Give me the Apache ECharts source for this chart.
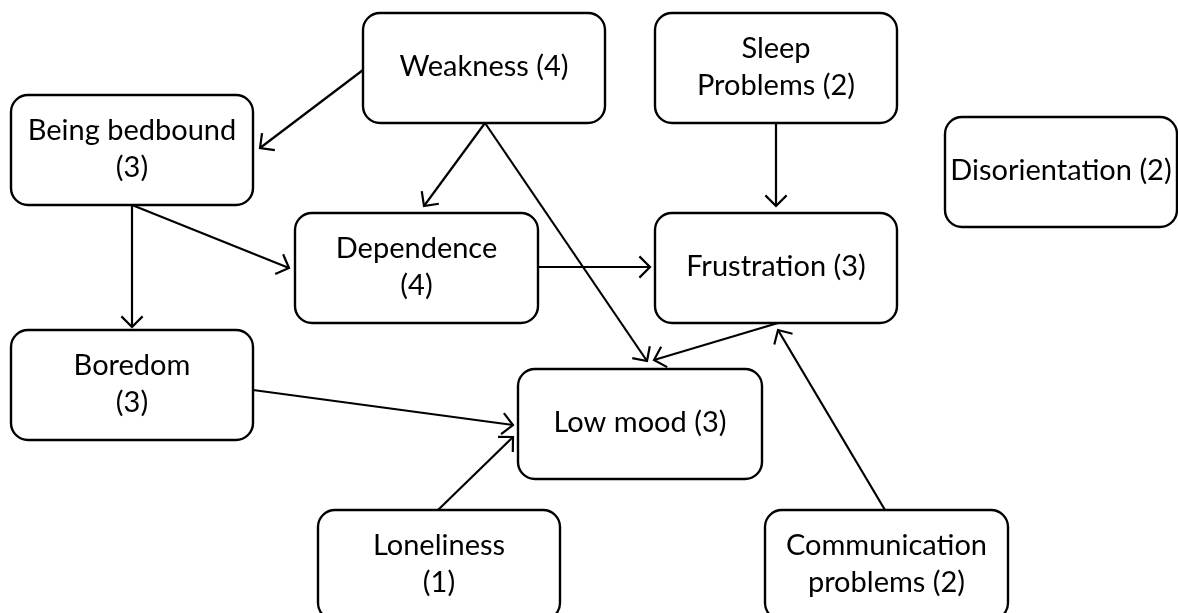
<!DOCTYPE html>
<html>
<head>
<meta charset="utf-8">
<script src="https://cdn.jsdelivr.net/npm/echarts@6/dist/echarts.min.js"></script>
<style>
  html, body { margin: 0; padding: 0; background: #fff; }
  #main { width: 1178px; height: 613px; }
</style>
</head>
<body>
<div id="main"></div>
<script>
'use strict';
// boxes of the diagram (in picture units, y down)
var nodeLabels = ['Weakness (4)', 'Sleep\nProblems (2)', 'Being bedbound\n(3)', 'Disorientation (2)',
	'Dependence\n(4)', 'Frustration (3)', 'Boredom\n(3)', 'Low mood (3)', 'Loneliness\n(1)',
	'Communication\nproblems (2)'];
var nodeLeft = [363, 655, 11, 945, 295, 655, 11, 518, 318, 765];
var nodeTop = [13, 13, 95, 117, 213, 213, 330, 369, 510, 510];
var nodeWidth = [242, 242, 242, 232, 243, 242, 242, 244, 242, 243];
var nodeHeight = [110, 110, 110, 110, 110, 110, 110, 110, 110, 110];

// arrows: start point -> end point
var arrowFrom = [[363, 70], [485, 123], [485, 123], [776, 123], [132, 205], [132, 205],
	[538, 267], [778, 323], [253, 390], [438, 510], [885, 510]];
var arrowTo = [[260, 148], [424, 206], [647, 361], [776, 206], [132, 327], [289, 268],
	[650, 267], [654, 360], [513, 425], [513, 437], [778, 330]];

$ready();

function $ready() {
	var chart = echarts.init(document.getElementById('main'));

	var boxData = nodeLabels.map(function (t, i) {
		return [nodeLeft[i], nodeTop[i], nodeWidth[i], nodeHeight[i], t];
	});
	var arrowData = arrowFrom.map(function (p, i) {
		return [p[0], p[1], arrowTo[i][0], arrowTo[i][1]];
	});

	chart.setOption({
		animation: false,
		backgroundColor: '#fff',
		grid: { left: 0, right: 0, top: 0, bottom: 0 },
		xAxis: { type: 'value', min: 0, max: 1178, show: false },
		yAxis: { type: 'value', min: 0, max: 613, inverse: true, show: false },
		series: [{
			type: 'custom',
			name: 'arrows',
			clip: false,
			z: 1,
			data: arrowData,
			renderItem: function (params, api) {
				var a = api.coord([api.value(0), api.value(1)]);
				var b = api.coord([api.value(2), api.value(3)]);
				var ang = Math.atan2(b[1] - a[1], b[0] - a[0]);
				var len = 15, spread = Math.PI / 4;
				var l = [b[0] - len * Math.cos(ang - spread), b[1] - len * Math.sin(ang - spread)];
				var r = [b[0] - len * Math.cos(ang + spread), b[1] - len * Math.sin(ang + spread)];
				var st = { stroke: '#000', lineWidth: 2.2, fill: null };
				return {
					type: 'group',
					children: [{
						type: 'line',
						shape: { x1: a[0], y1: a[1], x2: b[0], y2: b[1] },
						style: st
					}, {
						type: 'polyline',
						shape: { points: [l, b, r] },
						style: st
					}]
				};
			}
		}, {
			type: 'custom',
			name: 'boxes',
			clip: false,
			z: 2,
			data: boxData,
			renderItem: function (params, api) {
				var p0 = api.coord([api.value(0), api.value(1)]);
				var p1 = api.coord([api.value(0) + api.value(2), api.value(1) + api.value(3)]);
				var label = boxData[params.dataIndex][4];
				return {
					type: 'group',
					children: [{
						type: 'rect',
						shape: { x: p0[0], y: p0[1], width: p1[0] - p0[0], height: p1[1] - p0[1], r: 17 },
						style: { fill: '#fff', stroke: '#000', lineWidth: 2.4 }
					}, {
						type: 'text',
						style: {
							text: label,
							x: (p0[0] + p1[0]) / 2,
							y: (p0[1] + p1[1]) / 2 - 1,
							align: 'center',
							verticalAlign: 'middle',
							fontFamily: 'Lato',
							fontSize: 29,
							lineHeight: 37,
							fill: '#000'
						}
					}]
				};
			}
		}]
	});
}
</script>
</body>
</html>
